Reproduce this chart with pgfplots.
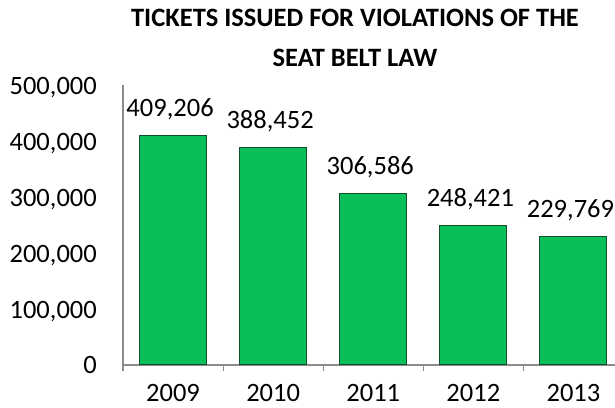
\documentclass[border=0pt]{standalone}
\usepackage{fontspec}
\setmainfont{Carlito}
\usepackage{pgfplots}
\usepackage{pgfplotstable}
\pgfplotsset{compat=1.18}

\definecolor{bargreen}{RGB}{10,190,88}
\definecolor{baredge}{RGB}{15,80,40}
\definecolor{axisgray}{RGB}{140,140,140}

\pgfplotstableread{
x y lab
0 409206 409,206
1 388452 388,452
2 306586 306,586
3 248421 248,421
4 229769 229,769
}\tickets

\begin{document}
\begin{tikzpicture}
  \path[use as bounding box] (-123bp,-43bp) rectangle (492bp,365bp);
  \begin{axis}[
      scale only axis,
      width=492bp, height=280bp,
      at={(0,0)}, anchor=south west,
      ybar, bar width=67bp,
      xmin=-0.5, xmax=4.415,
      ymin=0, ymax=500000,
      xtick={0,1,2,3,4},
      xticklabels={2009,2010,2011,2012,2013},
      minor xtick={-0.5,0.5,1.5,2.5,3.5},
      ytick={0,100000,200000,300000,400000,500000},
      yticklabels={0,{100,000},{200,000},{300,000},{400,000},{500,000}},
      scaled y ticks=false,
      axis lines*=left,
      axis line style={axisgray, line width=1.2bp},
      major tick length=0pt,
      minor tick length=6bp,
      tick align=outside,
      minor tick style={axisgray, line width=1.2bp},
      ticklabel style={font=\fontsize{26.5bp}{31bp}\selectfont},
      xticklabel style={inner sep=0pt, anchor=north, yshift=-19bp},
      yticklabel style={inner sep=0pt, anchor=base east, xshift=-26bp, yshift=-9bp},
      point meta=explicit symbolic,
      nodes near coords,
      nodes near coords style={font=\fontsize{26.5bp}{31bp}\selectfont, inner sep=0pt, anchor=base, yshift=19bp, xshift=-3bp},
      clip=false,
    ]
    \addplot[fill=bargreen, draw=baredge, line width=1bp] table[x=x, y=y, meta=lab] {\tickets};
  \end{axis}
  \node[align=center, font=\bfseries\fontsize{26.5bp}{40bp}\selectfont, anchor=center] at (232bp,327bp)
    {TICKETS ISSUED FOR VIOLATIONS OF THE\\SEAT BELT LAW};
\end{tikzpicture}
\end{document}
